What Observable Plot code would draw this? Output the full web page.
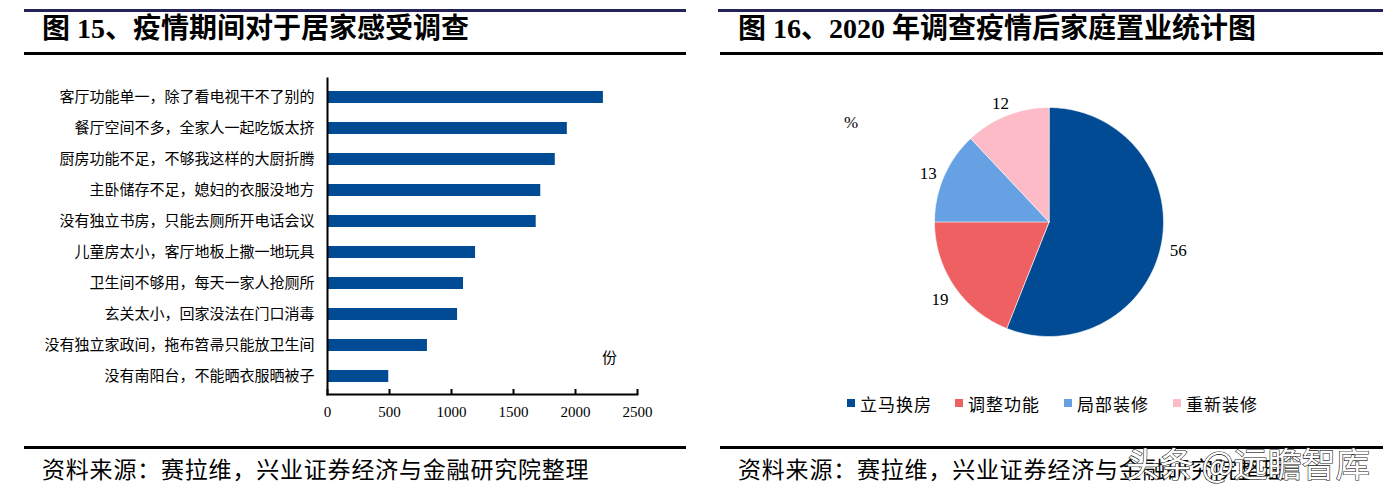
<!DOCTYPE html>
<html><head><meta charset="utf-8">
<script src="https://cdn.jsdelivr.net/npm/d3@7"></script>
<script src="https://cdn.jsdelivr.net/npm/@observablehq/plot@0.6"></script>
<style>
body{margin:0;background:#fff;}
#page{position:relative;width:1396px;height:498px;overflow:hidden;background:#fff;font-family:"Noto Sans CJK SC",sans-serif;color:#000;}
.holder{position:absolute;top:0;}
.rule{position:absolute;height:3px;background:#000;}
.title{position:absolute;top:10px;font-family:"Liberation Serif","Noto Sans CJK SC",serif;font-weight:700;font-size:28px;line-height:38px;white-space:nowrap;}
.source{position:absolute;top:453px;font-size:23px;line-height:30px;white-space:nowrap;letter-spacing:0.8px;}
.t{position:absolute;white-space:nowrap;line-height:20px;}
.leg{position:absolute;top:393px;height:20px;display:flex;align-items:center;font-size:17px;letter-spacing:1px;white-space:nowrap;}
.leg i{display:inline-block;width:8px;height:8px;margin-right:5px;}
.wm{position:absolute;left:1126px;top:443px;font-size:34px;line-height:40px;color:#fff;-webkit-text-stroke:1.2px #222;paint-order:stroke fill;white-space:nowrap;}
</style></head>
<body><div id="page">
<div id="left" class="holder" style="left:0;width:700px;"></div>
<div id="right" class="holder" style="left:700px;width:696px;"></div>
</div>
<script>
// ---------- data ----------
const categories = [
  "客厅功能单一，除了看电视干不了别的",
  "餐厅空间不多，全家人一起吃饭太挤",
  "厨房功能不足，不够我这样的大厨折腾",
  "主卧储存不足，媳妇的衣服没地方",
  "没有独立书房，只能去厕所开电话会议",
  "儿童房太小，客厅地板上撒一地玩具",
  "卫生间不够用，每天一家人抢厕所",
  "玄关太小，回家没法在门口消毒",
  "没有独立家政间，拖布笤帚只能放卫生间",
  "没有南阳台，不能晒衣服晒被子"
];
const counts = [2225, 1934, 1837, 1720, 1683, 1194, 1097, 1049, 806, 494];
const xTicks = [0, 500, 1000, 1500, 2000, 2500];

const pieNames = ["立马换房", "调整功能", "局部装修", "重新装修"];
const pieShares = [56, 19, 13, 12];
const pieColors = ["#004B93", "#EE6062", "#66A2E3", "#FDBBC7"];

// ---------- left: bar chart ----------
const barData = categories.map((c, i) => ({category: c, count: counts[i]}));
const left = Plot.plot({
  width: 700, height: 440,
  marginLeft: 327, marginRight: 63, marginTop: 78, marginBottom: 46,
  style: {background: "transparent", fontFamily: "Noto Sans CJK SC", fontSize: "15px", color: "#000"},
  x: {domain: [0, 2500]},
  y: {domain: categories, paddingInner: 0.62, paddingOuter: 0.31},
  marks: [
    Plot.barX(barData, {x: "count", y: "category", fill: "#004B93"}),
    Plot.gridX({ticks: xTicks, stroke: "#000", strokeOpacity: 1, strokeWidth: 2, insetTop: 311}),
    Plot.axisX({ticks: xTicks, tickFormat: d => String(d), tickSize: 0, tickPadding: 12, fontFamily: "Liberation Serif", fontSize: 15, label: null}),
    Plot.axisY({tickSize: 0, tickPadding: 13, fontSize: 15, label: null}),
    Plot.frame({anchor: "left", strokeWidth: 2}),
    Plot.frame({anchor: "bottom", strokeWidth: 2})
  ]
});
document.getElementById("left").appendChild(left);

// ---------- right: pie chart ----------
const total = d3.sum(pieShares);
const piePoints = [];
const pieLabels = [];
let acc = 0;
pieNames.forEach((name, i) => {
  const a0 = acc / total * 2 * Math.PI;
  acc += pieShares[i];
  const a1 = acc / total * 2 * Math.PI;
  piePoints.push({name, x: 0, y: 0});
  const n = Math.max(2, Math.ceil((a1 - a0) / (Math.PI / 180)));
  for (let k = 0; k <= n; k++) {
    const a = a0 + (a1 - a0) * k / n;
    piePoints.push({name, x: Math.sin(a), y: Math.cos(a)});
  }
  const am = (a0 + a1) / 2;
  pieLabels.push({name, value: pieShares[i], x: 1.15 * Math.sin(am), y: 1.15 * Math.cos(am)});
});
const right = Plot.plot({
  width: 696, height: 440,
  marginLeft: 234, marginRight: 233, marginTop: 107, marginBottom: 104,
  style: {background: "transparent", color: "#000"},
  x: {domain: [-1, 1], axis: null},
  y: {domain: [-1, 1], axis: null},
  color: {domain: pieNames, range: pieColors},
  marks: [
    Plot.line(piePoints, {x: "x", y: "y", z: "name", fill: "name", stroke: "#fff", strokeWidth: 0.6, curve: "linear-closed"}),
    Plot.text(pieLabels, {x: "x", y: "y", text: d => String(d.value), fontFamily: "Liberation Serif", fontSize: 17, dy: 4, fill: "#000"})
  ]
});
document.getElementById("right").appendChild(right);

// ---------- text / decoration ----------
const page = document.getElementById("page");
function add(html) { page.insertAdjacentHTML("beforeend", html); }
add('<div class="rule" style="left:24px;width:662px;top:9px;background:#23235a"></div>');
add('<div class="rule" style="left:24px;width:662px;top:52px"></div>');
add('<div class="rule" style="left:24px;width:662px;top:446px"></div>');
add('<div class="rule" style="left:718px;width:665px;top:9px;background:#23235a"></div>');
add('<div class="rule" style="left:720px;width:663px;top:52px"></div>');
add('<div class="rule" style="left:720px;width:663px;top:446px"></div>');
add('<div class="title" style="left:42px">图 15、疫情期间对于居家感受调查</div>');
add('<div class="title" style="left:738px">图 16、2020 年调查疫情后家庭置业统计图</div>');
add('<div class="source" style="left:42px">资料来源：赛拉维，兴业证券经济与金融研究院整理</div>');
add('<div class="source" style="left:738px">资料来源：赛拉维，兴业证券经济与金融研究院整理</div>');
add('<div class="t" style="left:602px;top:347px;font-size:15px">份</div>');
add('<div class="t" style="left:844px;top:113px;font-size:17px;font-family:\'Liberation Serif\'">%</div>');
const legLefts = [847, 955, 1064, 1173];
pieNames.forEach((n, i) => {
  add(`<div class="leg" style="left:${legLefts[i]}px"><i style="background:${pieColors[i]}"></i>${n}</div>`);
});
add('<div class="wm">头条 @远瞻智库</div>');
</script>
</body></html>
